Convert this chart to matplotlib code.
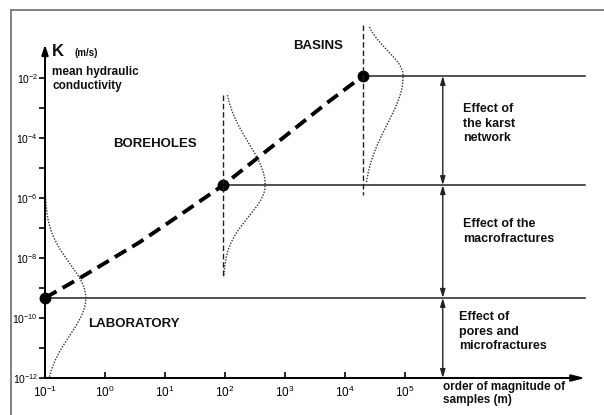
import numpy as np
import matplotlib.pyplot as plt
from matplotlib.ticker import NullLocator
from matplotlib.lines import Line2D

plt.rcParams['font.family'] = ['Liberation Sans', 'DejaVu Sans']
plt.rcParams['mathtext.fontset'] = 'custom'
plt.rcParams['mathtext.rm'] = 'Liberation Sans'
plt.rcParams['mathtext.it'] = 'Liberation Sans:italic'
plt.rcParams['mathtext.bf'] = 'Liberation Sans:bold'

# ---------- data (all in log10) ----------
scale_names = ["LABORATORY", "BOREHOLES", "BASINS"]
scale_logx = [-1.0, 1.97, 4.3]        # sample size, log10(m)
scale_logk = [-9.33, -5.57, -1.93]    # mean K, log10(m/s)

# trend line
trend_logx = [-1.0, -0.42, 0.58, 1.37, 1.97, 2.92, 3.7, 4.3]
trend_logk = [-9.33, -8.67, -7.47, -6.4, -5.57, -4.07, -2.83, -1.93]

# spread of K around each mean (peak width in decades, sigma above/below, extent)
dist_peak = [0.68, 0.7, 0.67]
dist_sig_up = [1.15, 1.4, 0.85]
dist_sig_dn = [1.25, 1.05, 1.6]
dist_top = [-5.73, -2.57, -0.3]
dist_bot = [-12.0, -8.63, -5.5]

# dashed vertical range for boreholes and basins
range_top = [-2.57, -0.23]
range_bot = [-8.63, -5.9]

xtick_exp = [-1, 0, 1, 2, 3, 4, 5]
ytick_exp = [-12, -10, -8, -6, -4, -2]
yminor_exp = [-11, -9, -7, -5, -3]

effect_labels = ["Effect of\nthe karst\nnetwork",
                 "Effect of the\nmacrofractures",
                 "Effect of\npores and\nmicrofractures"]

arrow_logx = 5.63
line_end_logx = 8.0

# ---------- figure ----------
fig = plt.figure(figsize=(6.04, 4.15), dpi=100)
ax = fig.add_axes([0, 0, 1, 1])
ax.set_xscale('log')
ax.set_yscale('log')
ax.set_xlim(10**-1.75, 10**8.317)
ax.set_ylim(10**-13.233, 10**0.6)
ax.patch.set_alpha(0)

ax.spines['top'].set_visible(False)
ax.spines['right'].set_visible(False)
ax.spines['left'].set_position(('data', 0.1))
ax.spines['bottom'].set_position(('data', 1e-12))
ax.spines['left'].set_bounds(1e-12, 10**-1.0)
ax.spines['bottom'].set_bounds(0.1, 10**7.8)
ax.spines['left'].set_linewidth(1.4)
ax.spines['bottom'].set_linewidth(1.4)

ax.set_xticks([10.0**e for e in xtick_exp])
ax.set_xticklabels([r'$10^{%d}$' % e for e in xtick_exp], fontsize=8.5)
ax.xaxis.set_minor_locator(NullLocator())
ax.set_yticks([10.0**e for e in ytick_exp])
ax.set_yticklabels([r'$10^{%d}$' % e for e in ytick_exp], fontsize=7.5)
ax.set_yticks([10.0**e for e in yminor_exp], minor=True)
ax.set_yticklabels([], minor=True)
ax.tick_params(axis='x', which='both', direction='in', length=4, width=1.2, pad=5)
ax.tick_params(axis='y', which='both', direction='out', length=4, width=1.2, pad=1)

# axis arrowheads
ax.annotate('', xy=(0.1, 10**-0.8), xytext=(0.1, 10**-1.5),
            arrowprops=dict(arrowstyle='-|>,head_length=0.6,head_width=0.2', color='k', lw=1.4))
ax.annotate('', xy=(10**8.05, 1e-12), xytext=(10**7.5, 1e-12),
            arrowprops=dict(arrowstyle='-|>,head_length=0.8,head_width=0.2', color='k', lw=1.4))

# horizontal lines from each mean
for lx, lk in zip(scale_logx, scale_logk):
    ax.plot([10**lx, 10**line_end_logx], [10**lk, 10**lk], color='#222222', lw=1.1)

# trend
ax.plot(10**np.array(trend_logx), 10**np.array(trend_logk), color='k', lw=2.8,
        dashes=(3.4, 1.8), solid_capstyle='butt')
ax.plot(10**np.array(scale_logx), 10**np.array(scale_logk), 'o', color='k', ms=7.5)

# dashed vertical ranges
for lx, t, b in zip(scale_logx[1:], range_top, range_bot):
    ax.plot([10**lx, 10**lx], [10**t, 10**b], color='#222222', lw=1.0, dashes=(4, 2))

# spread curves
for i in range(3):
    yk = np.linspace(dist_top[i], dist_bot[i], 200)
    d = yk - scale_logk[i]
    sig = np.where(d > 0, dist_sig_up[i], dist_sig_dn[i])
    g = np.exp(-d**2 / (2 * sig**2))
    ax.plot(10**(scale_logx[i] + dist_peak[i] * g), 10**yk, color='#333333', lw=1.0,
            linestyle=(0, (1, 1.1)))

# double arrows for effects
bounds = [scale_logk[2], scale_logk[1], scale_logk[0], -12.0]
for j in range(3):
    ax.annotate('', xy=(10**arrow_logx, 10**bounds[j]), xytext=(10**arrow_logx, 10**bounds[j + 1]),
                arrowprops=dict(arrowstyle='<|-|>,head_length=0.5,head_width=0.15',
                                color='#222222', lw=1.0, shrinkA=0, shrinkB=0))

# ---------- text ----------
bold = dict(fontweight='bold', color='#111111')
ax.text(10**-0.883, 10**-1.133, 'K', fontsize=12, va='center', ha='left', **bold)
ax.text(10**-0.5, 10**-1.167, '(m/s)', fontsize=7, va='center', ha='left', **bold)
ax.text(10**-0.883, 10**-2.03, 'mean hydraulic\nconductivity', fontsize=8.5,
        va='center', ha='left', linespacing=1.2, **bold)

ax.text(10**0.133, 10**-4.2, scale_names[1], fontsize=9.5, va='center', ha='left', **bold)
ax.text(10**3.133, 10**-0.933, scale_names[2], fontsize=9.5, va='center', ha='left', **bold)
ax.text(10**-0.283, 10**-10.2, scale_names[0], fontsize=9.5, va='center', ha='left', **bold)

ax.text(10**5.967, 10**-3.517, effect_labels[0], fontsize=9, va='center', ha='left',
        linespacing=1.25, **bold)
ax.text(10**5.967, 10**-7.117, effect_labels[1], fontsize=9, va='center', ha='left',
        linespacing=1.25, **bold)
ax.text(10**5.9, 10**-10.45, effect_labels[2], fontsize=9, va='center', ha='left',
        linespacing=1.25, **bold)
ax.text(10**5.633, 10**-12.517, 'order of magnitude of\nsamples (m)', fontsize=8.5,
        va='center', ha='left', linespacing=1.15, **bold)

# outer frame (top and left edges visible)
fig.add_artist(Line2D([11 / 604, 1.0], [1 - 10 / 415, 1 - 10 / 415], transform=fig.transFigure,
                      color='#777777', lw=1.3))
fig.add_artist(Line2D([11 / 604, 11 / 604], [0.0, 1 - 10 / 415], transform=fig.transFigure,
                      color='#777777', lw=1.3))

fig.savefig('out.png', dpi=100)
